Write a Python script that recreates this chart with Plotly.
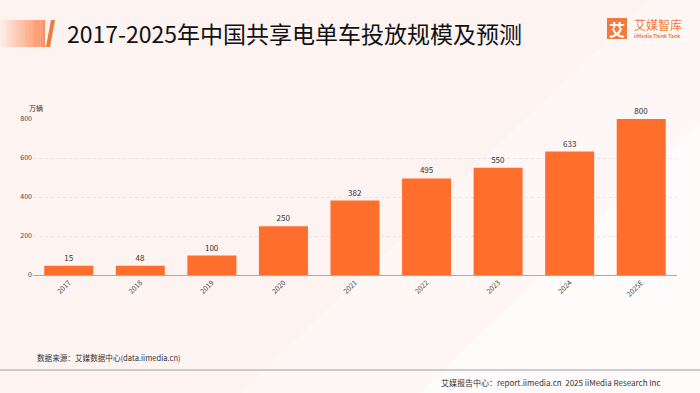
import plotly.graph_objects as go

years = ["2017", "2018", "2019", "2020", "2021", "2022", "2023", "2024", "2025E"]
bar_heights = [48, 48, 100, 250, 382, 495, 550, 633, 800]
bar_labels = ["15", "48", "100", "250", "382", "495", "550", "633", "800"]
y_ticks = [0, 200, 400, 600, 800]

FONT = "Noto Sans CJK SC"
ORANGE = "#FF6E2D"

W, H = 700, 393
x0, x1 = 33, 677
y_top, y_zero = 119, 275


def px_x(px):
    return (px - x0) / (x1 - x0)


def px_y(py):
    return (y_zero - py) / (y_zero - y_top)


def poly(points):
    s = ""
    for i, (px, py) in enumerate(points):
        s += ("M " if i == 0 else " L ") + f"{px_x(px):.5f} {px_y(py):.5f}"
    return s + " Z"


fig = go.Figure()
fig.add_trace(go.Bar(
    x=years, y=bar_heights, text=bar_labels, textposition="outside",
    textfont=dict(size=8, color="#333333", family=FONT),
    marker=dict(color=ORANGE, line=dict(width=0)),
    cliponaxis=False, hoverinfo="skip",
))

fig.update_layout(
    width=W, height=H,
    margin=dict(l=x0, r=W - x1, t=y_top, b=H - y_zero, autoexpand=False),
    paper_bgcolor="#FDF3F1", plot_bgcolor="rgba(0,0,0,0)",
    bargap=0.315, showlegend=False,
    font=dict(family=FONT),
    xaxis=dict(
        tickangle=-45, tickfont=dict(size=7, color="#444444", family=FONT),
        showline=True, linecolor="#aaaaaa", linewidth=1, ticks="", showgrid=False,
        automargin=False,
    ),
    yaxis=dict(
        range=[0, 800], tickvals=y_ticks, tickfont=dict(size=7, color="#444444", family=FONT),
        showgrid=True, gridcolor="#ebe3e1", griddash="dot", gridwidth=1,
        zeroline=False, ticks="", automargin=False,
    ),
)

shapes = []
# lighter diagonal background bands
shapes.append(dict(type="path", path=poly([(240, 393), (700, 393), (700, 0), (650, 0)]),
                   fillcolor="rgba(255,255,255,0.35)", line=dict(width=0), layer="below"))
shapes.append(dict(type="path", path=poly([(420, 393), (700, 393), (700, 120)]),
                   fillcolor="rgba(255,255,255,0.45)", line=dict(width=0), layer="below"))
# gradient stripe at top-left
n = 20
for i in range(n):
    xa = i * 45 / n
    xb = (i + 1) * 45 / n
    shapes.append(dict(type="rect", x0=px_x(xa), x1=px_x(xb), y0=px_y(47), y1=px_y(20),
                       fillcolor=ORANGE, opacity=0.04 + 0.75 * i / n, line=dict(width=0)))
# slanted bar
shapes.append(dict(type="path", path=poly([(46, 47), (50, 47), (55, 20), (51, 20)]),
                   fillcolor="#F07A3E", line=dict(width=0)))
# logo square
shapes.append(dict(type="rect", x0=px_x(607), x1=px_x(627), y0=px_y(39), y1=px_y(18),
                   fillcolor="#F07A3E", line=dict(width=0)))
# footer line
shapes.append(dict(type="line", x0=px_x(0), x1=px_x(700), y0=px_y(370), y1=px_y(370),
                   line=dict(color="#cccccc", width=2)))
for s in shapes:
    s.update(xref="paper", yref="paper")
fig.update_layout(shapes=shapes)

ann = [
    dict(text="2017-2025年中国共享电单车投放规模及预测", x=65, y=33,
         xanchor="left", yanchor="middle", font=dict(size=23, color="#111111", family=FONT)),
    dict(text="万辆", x=27, y=108, xanchor="left", yanchor="middle",
         font=dict(size=7, color="#333333", family=FONT)),
    dict(text="<b>艾</b>", x=617, y=28.5, xanchor="center", yanchor="middle",
         font=dict(size=16, color="white", family=FONT)),
    dict(text="艾媒智库", x=632, y=25, xanchor="left", yanchor="middle",
         font=dict(size=12, color="#F07A3E", family=FONT)),
    dict(text="<b>iiMedia Think Tank</b>", x=632, y=35.5, xanchor="left", yanchor="middle",
         font=dict(size=5, color="#F07A3E", family=FONT)),
    dict(text="数据来源：艾媒数据中心(data.iimedia.cn)", x=35, y=357,
         xanchor="left", yanchor="middle", font=dict(size=7.6, color="#333333", family=FONT)),
    dict(text="艾媒报告中心：report.iimedia.cn  2025 iiMedia Research Inc", x=663, y=382,
         xanchor="right", yanchor="middle", font=dict(size=8, color="#333333", family=FONT)),
]
for a in ann:
    a["x"] = px_x(a["x"])
    a["y"] = px_y(a["y"])
    a.update(xref="paper", yref="paper", showarrow=False)
fig.update_layout(annotations=ann)

fig.write_html("out.html", config={"displayModeBar": False},
               post_script="document.body.style.margin='0';document.body.style.overflow='hidden';")
